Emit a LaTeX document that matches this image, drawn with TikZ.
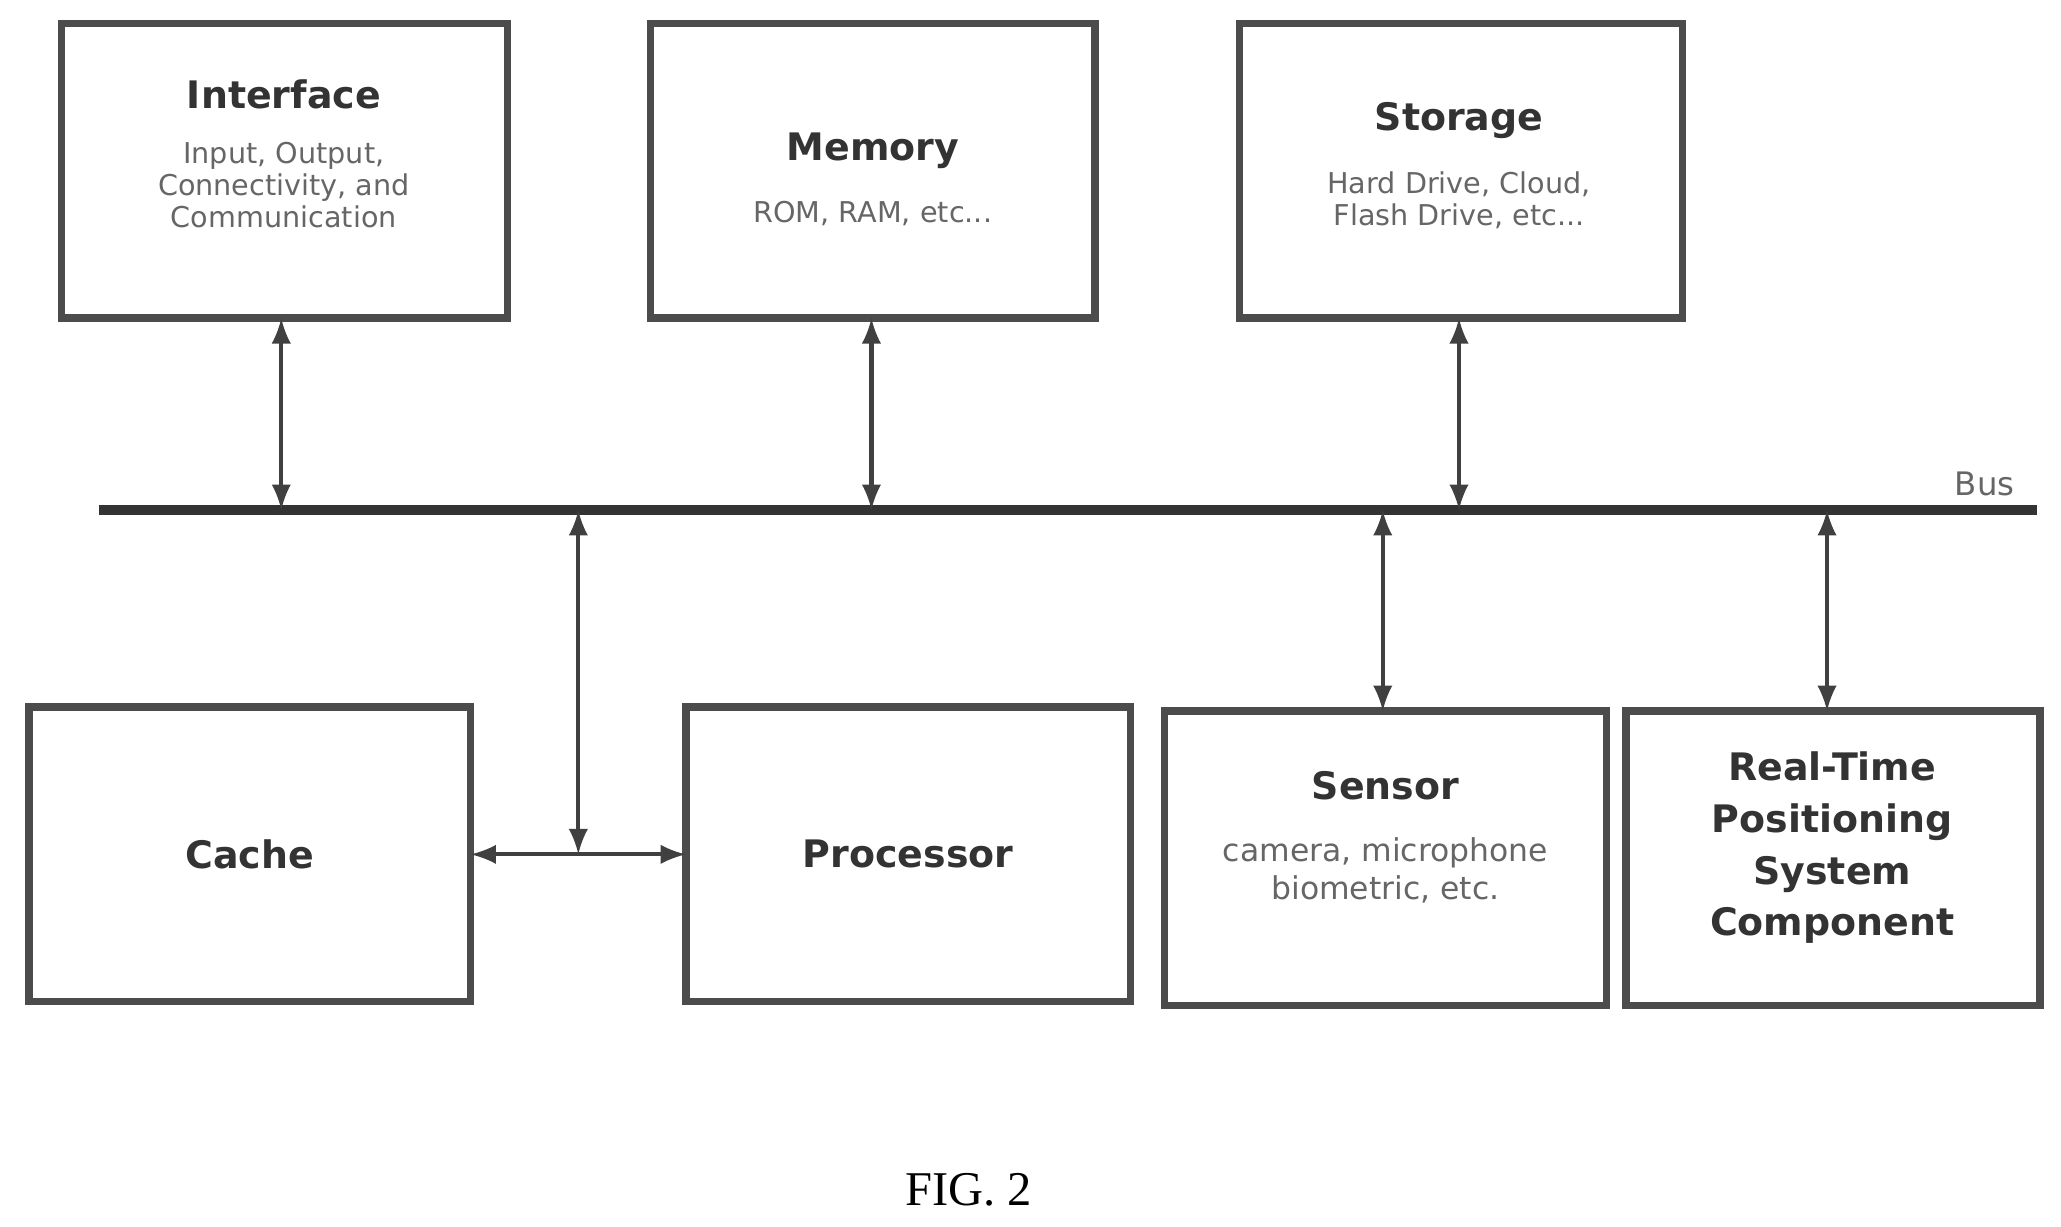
\documentclass[tikz,border=0pt]{standalone}
\usepackage{fontspec}
\setmainfont{DejaVu Sans}
\newfontfamily\figfont{Liberation Serif}
\usetikzlibrary{arrows}

\begin{document}
\begin{tikzpicture}[x=0.01cm,y=-0.01cm,>=latex,
  box/.style={draw=black!70,line width=1.6pt,inner sep=0pt},
  title/.style={font=\fontsize{8.2}{10}\selectfont\bfseries,text=black!80,align=center},
  sub/.style={font=\fontsize{6.2}{6.9}\selectfont,text=black!60,align=center},
  link/.style={<->,draw=black!75,line width=0.9pt}]
  \useasboundingbox (0,0) rectangle (1568,933);
  % top row
  \draw[box] (47,18) rectangle (386,242);
  \draw[box] (495,18) rectangle (833,242);
  \draw[box] (943,18) rectangle (1280,242);
  \node[title] (iface) at (216,72) {Interface};
  \node[sub,below=0pt] at (iface.south) {Input, Output,\\Connectivity, and\\Communication};
  \node[title] (mem) at (664,115) {Memory};
  \node[sub,below=0pt] at (mem.south) {ROM, RAM, etc...};
  \node[title] (stor) at (1110,92) {Storage};
  \node[sub,below=0pt] at (stor.south) {Hard Drive, Cloud,\\Flash Drive, etc...};
  % bus
  \draw[black!80,line width=2.2pt] (75,388) -- (1550,388);
  \node[sub,font=\fontsize{7}{8}\selectfont] (bus) at (1510,368) {Bus};
  % bottom row
  \draw[box] (22,538) rectangle (358,762);
  \draw[box] (522,538) rectangle (860,762);
  \draw[box] (886,541) rectangle (1222,765);
  \draw[box] (1237,541) rectangle (1552,765);
  \node[title] (cache) at (190,650) {Cache};
  \node[title] (proc) at (691,650) {Processor};
  \node[title] (sens) at (1054,598) {Sensor};
  \node[sub,font=\fontsize{6.8}{8.2}\selectfont,below=1pt] at (sens.south) {camera, microphone\\biometric, etc.};
  \node[title,font=\fontsize{8.2}{11.2}\selectfont\bfseries] (rtps) at (1394,645) {Real-Time\\Positioning\\System\\Component};
  % connectors
  \coordinate (c1) at (214,242); \coordinate (b1) at (214,388);
  \coordinate (c2) at (663,242); \coordinate (b2) at (663,388);
  \coordinate (c3) at (1110,242); \coordinate (b3) at (1110,388);
  \coordinate (b4) at (1052,388); \coordinate (c4) at (1052,541);
  \coordinate (b5) at (1390,388); \coordinate (c5) at (1390,541);
  \coordinate (b6) at (440,388); \coordinate (j) at (440,650);
  \coordinate (cl) at (358,650); \coordinate (pl) at (522,650);
  \draw[link] (c1) -- (b1);
  \draw[link] (c2) -- (b2);
  \draw[link] (c3) -- (b3);
  \draw[link] (b4) -- (c4);
  \draw[link] (b5) -- (c5);
  \draw[link] (b6) -- (j);
  \draw[link] (cl) -- (pl);
  \node[font=\fontsize{10.5}{12}\selectfont\figfont] (fig) at (737,905) {FIG. 2};
\end{tikzpicture}
\end{document}
